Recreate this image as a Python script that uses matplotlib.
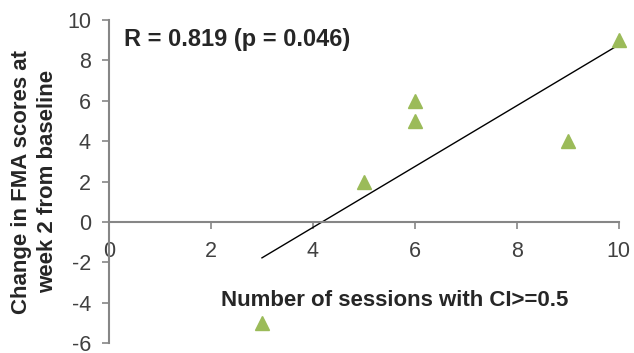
import numpy as np
from matplotlib import pyplot as plt

plt.rcParams['font.family'] = ['Liberation Sans', 'DejaVu Sans']
plt.rcParams['axes.unicode_minus'] = False

# data
sessions = [3, 5, 6, 6, 9, 10]
fma_change = [-5, 2, 6, 5, 4, 9]
x_ticks = [0, 2, 4, 6, 8, 10]
y_ticks = [-6, -4, -2, 0, 2, 4, 6, 8, 10]

fig = plt.figure(figsize=(6.34, 3.53), dpi=100)
ax = fig.add_axes([0.172, 0.028, 0.804, 0.915])

ax.plot(sessions, fma_change, linestyle='none', marker='^', markersize=10,
        color='#9BBB59', zorder=3, clip_on=False)

# linear trend line
slope, icpt = np.polyfit(sessions, fma_change, 1)
xs = np.array([min(sessions), max(sessions)])
ax.plot(xs, slope * xs + icpt, color='black', linewidth=1.0, zorder=2)

ax.set_xlim(0, 10)
ax.set_ylim(-6, 10)
ax.set_xticks(x_ticks)
ax.set_yticks(y_ticks)

for s in ['top', 'right']:
    ax.spines[s].set_visible(False)
ax.spines['bottom'].set_position(('data', 0))
for s in ['left', 'bottom']:
    ax.spines[s].set_color('#868686')
    ax.spines[s].set_linewidth(1.5)
ax.tick_params(colors='#868686', width=1.2, length=5, labelsize=15.5,
               labelcolor='#404040')
ax.tick_params(axis='y', pad=8)
ax.tick_params(axis='x', pad=9)

ax.set_xlabel('Number of sessions with CI>=0.5', fontsize=16, fontweight='bold',
              color='#262626')
ax.xaxis.set_label_coords(0.56, 0.165)
ax.set_ylabel('Change in FMA scores at\nweek 2 from baseline', fontsize=16,
              fontweight='bold', color='#262626', linespacing=1.3)
ax.yaxis.set_label_coords(-0.10, 0.50)

ax.text(0.03, 0.94, 'R = 0.819 (p = 0.046)', transform=ax.transAxes,
        fontsize=17, fontweight='bold', color='#262626', va='center')

fig.savefig('out.png', dpi=100)
